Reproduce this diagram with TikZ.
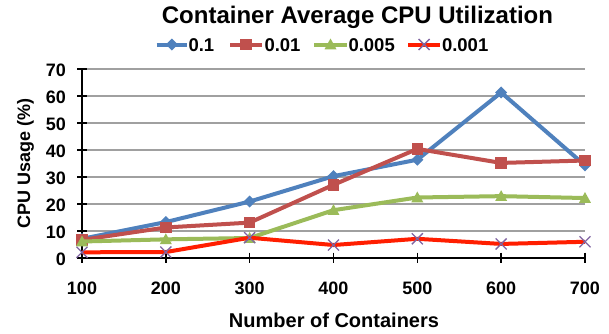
\documentclass[tikz,border=0pt]{standalone}
\usepackage{fontspec}
\setmainfont{Liberation Sans}
\definecolor{sblue}{RGB}{79,129,189}
\definecolor{sred}{RGB}{192,80,77}
\definecolor{sgreen}{RGB}{155,187,89}
\definecolor{sline}{RGB}{255,30,0}
\definecolor{spurple}{RGB}{128,100,162}
\definecolor{gridgray}{RGB}{160,160,160}
\newcommand{\titlefont}{\fontsize{24}{28}\selectfont\bfseries}
\newcommand{\tickfont}{\fontsize{18}{21}\selectfont\bfseries}
\newcommand{\legfont}{\fontsize{18.5}{22}\selectfont\bfseries}
\newcommand{\ytitlefont}{\fontsize{18}{21}\selectfont\bfseries}
\newcommand{\xtitlefont}{\fontsize{20}{24}\selectfont\bfseries}
\begin{document}
\begin{tikzpicture}[x=1pt,y=-1pt,line join=round,
  gridline/.style={draw=gridgray,line width=1.8pt},
  axisline/.style={draw=black,line width=1.6pt},
  serie/.style={line width=4pt},
  txt/.style={inner sep=0pt,outer sep=0pt},
  mdia/.pic={\fill[sblue] (0,-6)--(6,0)--(0,6)--(-6,0)--cycle;},
  msq/.pic={\fill[sred] (-5.8,-5.8) rectangle (5.8,5.8);},
  mtri/.pic={\fill[sgreen] (0,-6)--(6,4.8)--(-6,4.8)--cycle;},
  mx/.pic={\draw[spurple,line width=1.3pt] (-5.5,-5.5)--(5.5,5.5) (-5.5,5.5)--(5.5,-5.5);}]
\useasboundingbox (0,0) rectangle (609,333);
\fill[white] (0,0) rectangle (609,333);
% grid
\foreach \v in {10,20,...,70}
  \draw[gridline] (82,257.7-2.7*\v) -- (585,257.7-2.7*\v);
% axes
\coordinate (origin) at (82,257.7);
\coordinate (ytop) at (82,68.7);
\coordinate (xend) at (585,257.7);
\draw[axisline] (ytop) -- (origin) -- (xend);
\foreach \v in {0,10,...,70}{
  \draw[axisline] (77,257.7-2.7*\v) -- (87,257.7-2.7*\v);
  \node[txt,anchor=east,font=\tickfont] (yl\v) at (66,259.5-2.7*\v) {\v};
}
\foreach \k [count=\i] in {100,200,...,700}{
  \draw[axisline] (82+83.83*\i-83.83,252.7) -- (82+83.83*\i-83.83,263);
  \node[txt,anchor=base,font=\tickfont] (xl\k) at (82+83.83*\i-83.83,294) {\k};
}
% data coordinates
\foreach \v [count=\i] in {7,13.2,20.8,30.2,36.3,61.2,34.2}
  \coordinate (b\i) at (82+83.83*\i-83.83,257.7-2.7*\v);
\foreach \v [count=\i] in {6.6,11.2,13,27,40.3,35.1,36}
  \coordinate (r\i) at (82+83.83*\i-83.83,257.7-2.7*\v);
\foreach \v [count=\i] in {6,6.8,7.3,17.6,22.3,22.8,22.1}
  \coordinate (g\i) at (82+83.83*\i-83.83,257.7-2.7*\v);
\foreach \v [count=\i] in {2,2.1,7.4,4.7,7,5.1,5.9}
  \coordinate (p\i) at (82+83.83*\i-83.83,257.7-2.7*\v);
% series
\draw[serie,sblue] (b1) -- (b2) -- (b3) -- (b4) -- (b5) -- (b6) -- (b7);
\foreach \i in {1,...,7} \pic at (b\i) {mdia};
\draw[serie,sred] (r1) -- (r2) -- (r3) -- (r4) -- (r5) -- (r6) -- (r7);
\foreach \i in {1,...,7} \pic at (r\i) {msq};
\draw[serie,sgreen] (g1) -- (g2) -- (g3) -- (g4) -- (g5) -- (g6) -- (g7);
\foreach \i in {1,...,7} \pic at (g\i) {mtri};
\draw[serie,sline] (p1) -- (p2) -- (p3) -- (p4) -- (p5) -- (p6) -- (p7);
\foreach \i in {1,...,7} \pic at (p\i) {mx};
% titles
\node[txt,anchor=base,font=\titlefont] (title) at (357.5,23) {Container Average CPU Utilization};
\node[txt,anchor=base,font=\xtitlefont] (xtitle) at (334,327) {Number of Containers};
\node[txt,anchor=base,rotate=90,font=\ytitlefont] (ytitle) at (30,163) {CPU Usage (\%)};
% legend
\coordinate (la1) at (156.7,44.5); \coordinate (la2) at (187,44.5);
\coordinate (lb1) at (230,44.5);   \coordinate (lb2) at (261.7,44.5);
\coordinate (lc1) at (314.3,44.5); \coordinate (lc2) at (346.7,44.5);
\coordinate (ld1) at (408.3,44.5); \coordinate (ld2) at (440,44.5);
\draw[serie,sblue] (la1) -- (la2); \pic at (171.8,44.5) {mdia};
\draw[serie,sred] (lb1) -- (lb2); \pic at (245.8,44.5) {msq};
\draw[serie,sgreen] (lc1) -- (lc2); \pic at (330.5,44.5) {mtri};
\draw[serie,sline] (ld1) -- (ld2); \pic at (424.1,44.5) {mx};
\node[txt,anchor=base west,font=\legfont] (leg1) at (188.5,51) {0.1};
\node[txt,anchor=base west,font=\legfont] (leg2) at (264.5,51) {0.01};
\node[txt,anchor=base west,font=\legfont] (leg3) at (348.5,51) {0.005};
\node[txt,anchor=base west,font=\legfont] (leg4) at (442,51) {0.001};
\end{tikzpicture}
\end{document}
